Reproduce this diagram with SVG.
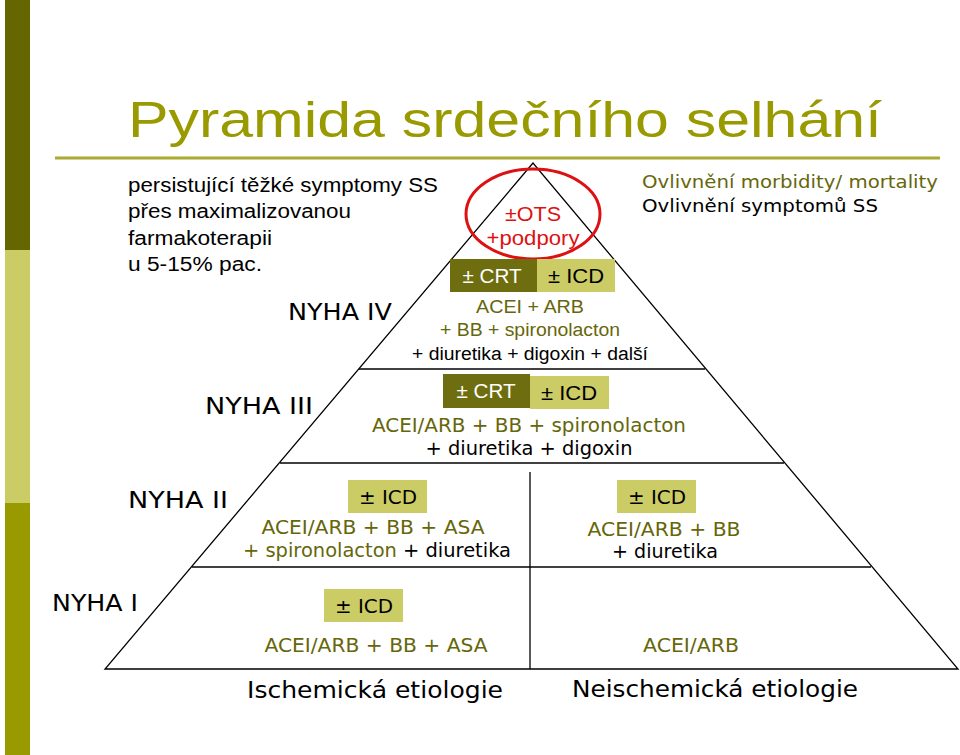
<svg xmlns="http://www.w3.org/2000/svg" width="960" height="755" viewBox="0 0 960 755">
<style>
.v{font-family:"DejaVu Sans",Verdana,sans-serif}
.a{font-family:"Liberation Sans",Arial,sans-serif}
.o{fill:#66660a}
.c{text-anchor:middle}
.ln{stroke:#000;stroke-width:1.3;fill:none}
.dk{fill:#6e6e10}
.lt{fill:#cccc66}
</style>
<rect width="960" height="755" fill="#fff"/>
<rect x="5" y="0" width="25" height="250" fill="#666600"/>
<rect x="5" y="250" width="25" height="253" fill="#cccc66"/>
<rect x="5" y="503" width="25" height="252" fill="#999900"/>
<line x1="55" y1="158" x2="940" y2="158" stroke="#aaaa33" stroke-width="3"/>
<text x="128" y="137" class="a" font-size="50" fill="#999900" textLength="754" lengthAdjust="spacingAndGlyphs">Pyramida srdečního selhání</text>
<g id="note" class="a" font-size="20" fill="#000">
<text x="128" y="192" textLength="310" lengthAdjust="spacingAndGlyphs">persistující těžké symptomy SS</text>
<text x="128" y="218" textLength="223" lengthAdjust="spacingAndGlyphs">přes maximalizovanou</text>
<text x="128" y="245" textLength="144" lengthAdjust="spacingAndGlyphs">farmakoterapii</text>
<text x="128" y="271" textLength="134" lengthAdjust="spacingAndGlyphs">u 5-15% pac.</text>
</g>
<g id="legend" class="v" font-size="18">
<text x="642" y="188" class="o" textLength="296" lengthAdjust="spacingAndGlyphs">Ovlivnění morbidity/ mortality</text>
<text x="642" y="212" textLength="236" lengthAdjust="spacingAndGlyphs">Ovlivnění symptomů SS</text>
</g>
<g id="connectors">
<path class="ln" d="M533,163 L105,669 L958,669 Z"/>
<line class="ln" x1="359" y1="369" x2="705" y2="369"/>
<line class="ln" x1="280" y1="463" x2="784" y2="463"/>
<line class="ln" x1="192" y1="567" x2="871" y2="567"/>
<line class="ln" x1="530" y1="472" x2="530" y2="669"/>
</g>
<g id="top">
<ellipse cx="533" cy="214" rx="67" ry="45" fill="none" stroke="#dd1111" stroke-width="3"/>
<text x="533" y="221" class="a c" font-size="20" fill="#dd1111" textLength="56" lengthAdjust="spacingAndGlyphs">±OTS</text>
<text x="533" y="245" class="a c" font-size="20" fill="#dd1111" textLength="93" lengthAdjust="spacingAndGlyphs">+podpory</text>
</g>
<g id="nyha4">
<rect x="450" y="259" width="87" height="33" class="dk"/>
<rect x="537" y="259" width="78" height="33" class="lt"/>
<text x="492" y="283" class="a c" font-size="20" fill="#fff" textLength="59" lengthAdjust="spacingAndGlyphs">± CRT</text>
<text x="576" y="283" class="a c" font-size="20" textLength="56" lengthAdjust="spacingAndGlyphs">± ICD</text>
<text x="530" y="313" class="a c o" font-size="18" textLength="108" lengthAdjust="spacingAndGlyphs">ACEI + ARB</text>
<text x="530" y="336" class="a c o" font-size="18" textLength="180" lengthAdjust="spacingAndGlyphs">+ BB + spironolacton</text>
<text x="530" y="360" class="a c" font-size="18" textLength="236" lengthAdjust="spacingAndGlyphs">+ diuretika + digoxin + další</text>
<text x="340" y="320" class="v c" font-size="23" textLength="104" lengthAdjust="spacingAndGlyphs">NYHA IV</text>
</g>
<g id="nyha3">
<rect x="443" y="374" width="87" height="34" class="dk"/>
<rect x="530" y="376" width="79" height="33" class="lt"/>
<text x="486" y="398" class="a c" font-size="20" fill="#fff" textLength="59" lengthAdjust="spacingAndGlyphs">± CRT</text>
<text x="569" y="400" class="a c" font-size="20" textLength="56" lengthAdjust="spacingAndGlyphs">± ICD</text>
<text x="529" y="432" class="v c o" font-size="19" textLength="314" lengthAdjust="spacingAndGlyphs">ACEI/ARB + BB + spironolacton</text>
<text x="529" y="455" class="v c" font-size="19" textLength="207" lengthAdjust="spacingAndGlyphs">+ diuretika + digoxin</text>
<text x="259" y="414" class="v c" font-size="23" textLength="108" lengthAdjust="spacingAndGlyphs">NYHA III</text>
</g>
<g id="nyha2">
<rect x="348" y="480" width="79" height="33" class="lt"/>
<rect x="617" y="480" width="79" height="33" class="lt"/>
<text x="388" y="504" class="v c" font-size="19" textLength="58" lengthAdjust="spacingAndGlyphs">± ICD</text>
<text x="657" y="504" class="v c" font-size="19" textLength="58" lengthAdjust="spacingAndGlyphs">± ICD</text>
<text x="373" y="534" class="v c o" font-size="19" textLength="223" lengthAdjust="spacingAndGlyphs">ACEI/ARB + BB + ASA</text>
<text x="377" y="557" class="v c" font-size="19" textLength="268" lengthAdjust="spacingAndGlyphs"><tspan class="o">+ spironolacton</tspan> + diuretika</text>
<text x="664" y="536" class="v c o" font-size="19" textLength="153" lengthAdjust="spacingAndGlyphs">ACEI/ARB + BB</text>
<text x="665" y="558" class="v c" font-size="19" textLength="106" lengthAdjust="spacingAndGlyphs">+ diuretika</text>
<text x="178" y="508" class="v c" font-size="23" textLength="100" lengthAdjust="spacingAndGlyphs">NYHA II</text>
</g>
<g id="nyha1">
<rect x="324" y="589" width="79" height="33" class="lt"/>
<text x="364" y="613" class="v c" font-size="19" textLength="58" lengthAdjust="spacingAndGlyphs">± ICD</text>
<text x="376" y="652" class="v c o" font-size="19" textLength="223" lengthAdjust="spacingAndGlyphs">ACEI/ARB + BB + ASA</text>
<text x="691" y="652" class="v c o" font-size="19" textLength="96" lengthAdjust="spacingAndGlyphs">ACEI/ARB</text>
<text x="95" y="611" class="v c" font-size="23" textLength="86" lengthAdjust="spacingAndGlyphs">NYHA I</text>
</g>
<g id="axis" class="v c" font-size="23">
<text x="375" y="698" textLength="256" lengthAdjust="spacingAndGlyphs">Ischemická etiologie</text>
<text x="715" y="697" textLength="286" lengthAdjust="spacingAndGlyphs">Neischemická etiologie</text>
</g>
</svg>
